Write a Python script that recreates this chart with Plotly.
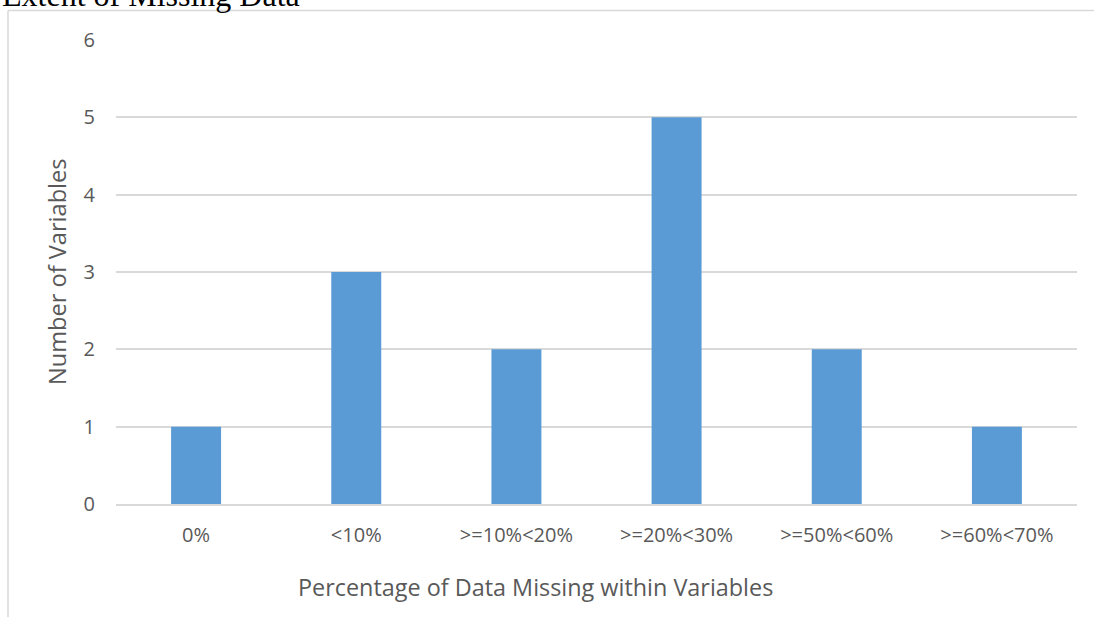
import plotly.graph_objects as go

categories = ["0%", "<10%", ">=10%<20%", ">=20%<30%", ">=50%<60%", ">=60%<70%"]
counts = [1, 3, 2, 5, 2, 1]
y_ticks = [0, 1, 2, 3, 4, 5, 6]

title_text = "Extent of Missing Data"
x_title = "Percentage of Data Missing within Variables"
y_title = "Number of Variables"

W, H = 1094, 617
L, R, T, B = 116, 17, 40, 113
PW, PH = W - L - R, H - T - B


def xp(px):
    return (px - L) / PW


def yp(py):
    return (H - B - py) / PH


grey = "#d9d9d9"
txt = "#595959"

fig = go.Figure(
    go.Bar(
        x=categories,
        y=counts,
        width=0.312,
        marker=dict(color="#5b9bd5", line=dict(width=0)),
        hoverinfo="skip",
    )
)

fig.update_layout(
    width=W,
    height=H,
    margin=dict(l=L, r=R, t=T, b=B),
    paper_bgcolor="white",
    plot_bgcolor="white",
    showlegend=False,
    font=dict(family="Open Sans", color=txt),
    xaxis=dict(
        type="category",
        showgrid=False,
        showline=True,
        linecolor=grey,
        linewidth=1.5,
        ticks="",
        tickfont=dict(size=20, color=txt, family="Open Sans"),
        ticklabelstandoff=12,
    ),
    yaxis=dict(
        range=[0, 6],
        tickvals=y_ticks,
        showgrid=True,
        gridcolor=grey,
        gridwidth=1.5,
        zeroline=False,
        showline=False,
        ticks="",
        tickfont=dict(size=20, color=txt, family="Open Sans"),
        ticklabelstandoff=20,
    ),
    annotations=[
        dict(
            text=title_text,
            xref="paper", yref="paper",
            x=xp(0), y=yp(15),
            xanchor="left", yanchor="bottom",
            showarrow=False,
            font=dict(family="Liberation Serif", size=32, color="black"),
        ),
        dict(
            text=x_title,
            xref="paper", yref="paper",
            x=xp(535), y=yp(587),
            xanchor="center", yanchor="middle",
            showarrow=False,
            font=dict(family="Open Sans", size=23.4, color=txt),
        ),
        dict(
            text=y_title,
            xref="paper", yref="paper",
            x=xp(57), y=0.5,
            xanchor="center", yanchor="middle",
            textangle=-90,
            showarrow=False,
            font=dict(family="Open Sans", size=23.6, color=txt),
        ),
    ],
    shapes=[
        dict(type="line", xref="paper", yref="paper",
             x0=xp(8), x1=xp(8), y0=yp(630), y1=yp(10.5),
             line=dict(color=grey, width=1.5)),
        dict(type="line", xref="paper", yref="paper",
             x0=xp(8), x1=xp(1100), y0=yp(10.5), y1=yp(10.5),
             line=dict(color=grey, width=1.5)),
    ],
)

fig.write_html(
    "out.html",
    config={"displayModeBar": False},
    post_script="document.body.style.margin='0';document.body.style.overflow='hidden';",
)
